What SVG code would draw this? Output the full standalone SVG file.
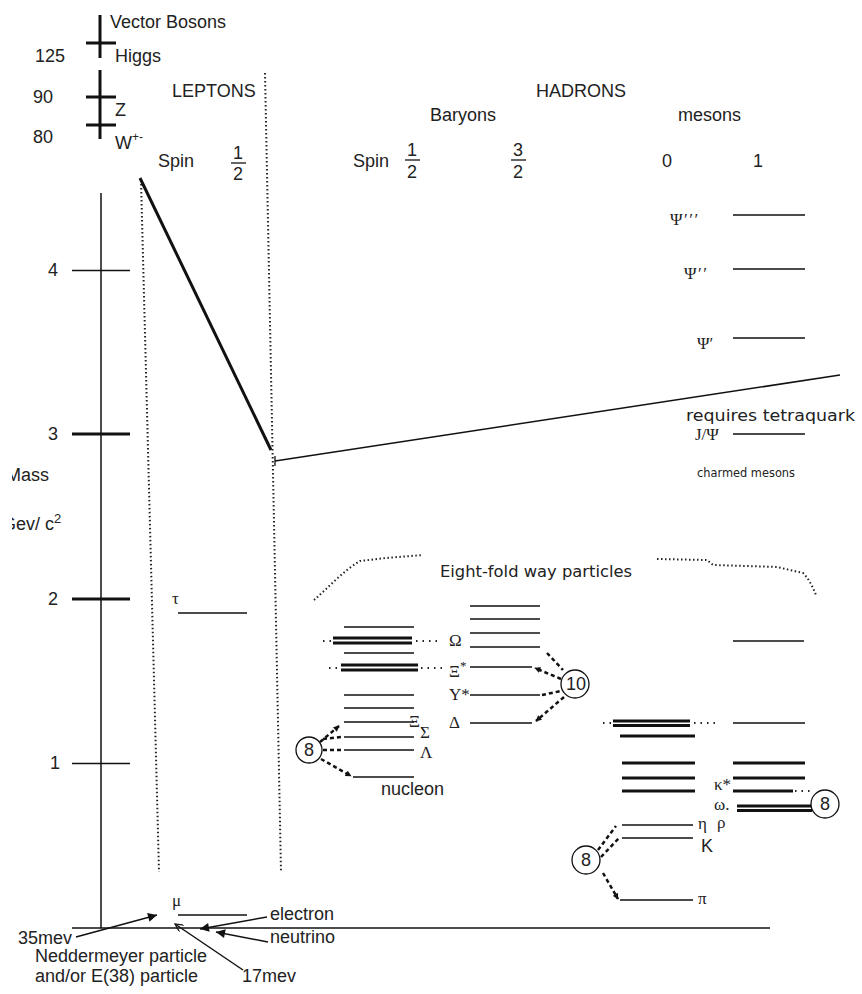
<svg xmlns="http://www.w3.org/2000/svg" width="862" height="994" viewBox="0 0 862 994">
<defs>
<style>
.t{font-family:"Liberation Sans",Arial,sans-serif;font-size:18px;fill:#222}
.m{text-anchor:middle}
.g{font-family:"Liberation Serif","DejaVu Serif",serif;font-size:17px;fill:#222}
.c{font-family:"DejaVu Sans",sans-serif;fill:#222}
.ln{stroke:#111;stroke-width:1.5;fill:none}
.tn{stroke:#111;stroke-width:1.3;fill:none}
.th{stroke:#111;stroke-width:3;fill:none}
.dot{stroke:#222;stroke-width:2;stroke-dasharray:1.5 2.5;fill:none}
.sdot{stroke:#222;stroke-width:1.8;stroke-dasharray:1.5 5;fill:none}
.dash{stroke:#111;stroke-width:2.5;stroke-dasharray:4 3;fill:none}
.circ{fill:#fff;stroke:#111;stroke-width:1.3}
</style>
<marker id="ah" viewBox="0 0 10 10" refX="9" refY="5" markerUnits="userSpaceOnUse" markerWidth="7" markerHeight="6" orient="auto"><path d="M0,0 L10,5 L0,10 z" fill="#111"/></marker>
<marker id="big" viewBox="0 0 10 10" refX="10" refY="5" markerUnits="userSpaceOnUse" markerWidth="15" markerHeight="9" orient="auto"><path d="M0,0 L10,5 L0,10 z" fill="#111"/></marker>
<marker id="open" viewBox="0 0 10 10" refX="10" refY="5" markerUnits="userSpaceOnUse" markerWidth="10" markerHeight="8" orient="auto"><path d="M0,0 L10,5 L0,10" fill="none" stroke="#111" stroke-width="1.5"/></marker>
<clipPath id="crop"><rect x="12" y="0" width="200" height="994"/></clipPath>
</defs>
<rect width="862" height="994" fill="#fff"/>

<g id="bosons">
<line class="th" x1="100" y1="15" x2="100" y2="58" stroke-width="2.5"/>
<line class="th" x1="86" y1="43" x2="116" y2="43" stroke-width="2.5"/>
<line class="th" x1="100" y1="70" x2="100" y2="139" stroke-width="2.5"/>
<line class="th" x1="86" y1="97" x2="116" y2="97" stroke-width="2.5"/>
<line class="th" x1="86" y1="125" x2="116" y2="125" stroke-width="2.5"/>
<text class="t" x="110" y="28">Vector Bosons</text>
<text class="t" x="35" y="62" font-size="17">125</text>
<text class="t" x="115" y="62">Higgs</text>
<text class="t" x="33" y="103" font-size="17">90</text>
<text class="t" x="115" y="116">Z</text>
<text class="t" x="33" y="143" font-size="17">80</text>
<text class="t" x="115" y="149">W<tspan font-size="12" dy="-8">+-</tspan></text>
</g>

<g id="headers">
<text class="t" x="172" y="97">LEPTONS</text>
<text class="t" x="158" y="167">Spin</text>
<text class="t m" x="238" y="159" font-size="17">1</text>
<line class="tn" x1="231" y1="163" x2="246" y2="163"/>
<text class="t m" x="238" y="180" font-size="17">2</text>
<text class="t" x="536" y="97">HADRONS</text>
<text class="t" x="430" y="121">Baryons</text>
<text class="t" x="678" y="121">mesons</text>
<text class="t" x="353" y="167">Spin</text>
<text class="t m" x="412" y="156" font-size="17">1</text>
<line class="tn" x1="405" y1="160" x2="420" y2="160"/>
<text class="t m" x="412" y="178" font-size="17">2</text>
<text class="t m" x="518" y="156" font-size="17">3</text>
<line class="tn" x1="511" y1="160" x2="526" y2="160"/>
<text class="t m" x="518" y="178" font-size="17">2</text>
<text class="t m" x="667" y="167" font-size="17">0</text>
<text class="t m" x="758" y="167" font-size="17">1</text>
</g>

<g id="axis">
<line class="ln" x1="101" y1="193" x2="101" y2="928"/>
<line class="ln" x1="72" y1="928" x2="770" y2="928"/>
<line class="tn" x1="72" y1="270.5" x2="130" y2="270.5"/>
<line class="th" x1="72" y1="434" x2="130" y2="434"/>
<line class="th" x1="72" y1="599" x2="130" y2="599"/>
<line class="tn" x1="72" y1="763.5" x2="130" y2="763.5"/>
<text class="t" x="48" y="276" font-size="17">4</text>
<text class="t" x="48" y="440" font-size="17">3</text>
<text class="t" x="48" y="605" font-size="17">2</text>
<text class="t" x="50" y="769" font-size="17">1</text>
<g clip-path="url(#crop)">
<text class="t" x="6" y="481">Mass</text>
<text class="t" x="2" y="530">Gev/ c<tspan font-size="13" dy="-7">2</tspan></text>
</g>
</g>

<g id="leptons">
<line class="dot" x1="141" y1="180" x2="159" y2="872"/>
<line class="dot" x1="265" y1="73" x2="281" y2="872"/>
<line class="th" x1="140" y1="178" x2="271" y2="450"/>
<line class="tn" x1="275" y1="456" x2="275" y2="466"/>
<line class="ln" x1="275" y1="461" x2="840" y2="375"/>
<text class="g" x="172" y="604" font-size="16">τ</text>
<line class="ln" x1="178" y1="613" x2="247" y2="613"/>
<text class="g" x="172" y="906" font-size="15">μ</text>
<line class="ln" x1="178" y1="915" x2="247" y2="915"/>
</g>

<g id="charm">
<text class="g" x="670" y="225" font-size="19" letter-spacing="1.5">Ψ′′′</text>
<line class="ln" x1="733" y1="215" x2="805" y2="215"/>
<text class="g" x="684" y="279" font-size="19" letter-spacing="1.5">Ψ′′</text>
<line class="ln" x1="733" y1="269" x2="805" y2="269"/>
<text class="g" x="697" y="349" font-size="19">Ψ′</text>
<line class="ln" x1="733" y1="338" x2="805" y2="338"/>
<text class="c" x="686" y="421" font-size="16" textLength="169" lengthAdjust="spacingAndGlyphs">requires tetraquark</text>
<text class="g" x="695" y="440" font-size="14">J/Ψ</text>
<line class="ln" x1="733" y1="434" x2="805" y2="434"/>
<text class="c" x="697" y="477" font-size="13" textLength="98" lengthAdjust="spacingAndGlyphs">charmed mesons</text>
</g>

<g id="eightfold">
<text class="c" x="440" y="577" font-size="15" textLength="192" lengthAdjust="spacingAndGlyphs">Eight-fold way particles</text>
<path class="dot" d="M314,600 C328,588 344,570 360,561 L386,558 L423,555"/>
<path class="dot" d="M657,559 L707,560 L713,565 L777,567 L803,573 C810,580 813,588 816,595"/>
</g>

<g id="baryons-half">
<line class="ln" x1="344" y1="627" x2="414" y2="627"/>
<line class="th" x1="333" y1="638" x2="412" y2="638" stroke-width="2.6"/>
<line class="th" x1="333" y1="643" x2="412" y2="643" stroke-width="2.6"/>
<line class="sdot" x1="323" y1="641" x2="333" y2="641"/>
<line class="sdot" x1="416" y1="641" x2="442" y2="641"/>
<line class="ln" x1="344" y1="653" x2="414" y2="653"/>
<line class="th" x1="341" y1="665" x2="418" y2="665" stroke-width="2.6"/>
<line class="th" x1="341" y1="670" x2="418" y2="670" stroke-width="2.6"/>
<line class="sdot" x1="329" y1="668" x2="340" y2="668"/>
<line class="sdot" x1="421" y1="668" x2="447" y2="668"/>
<line class="ln" x1="344" y1="695" x2="414" y2="695"/>
<line class="ln" x1="344" y1="708" x2="414" y2="708"/>
<line class="ln" x1="344" y1="722" x2="414" y2="722"/>
<line class="ln" x1="344" y1="737" x2="414" y2="737"/>
<line class="ln" x1="344" y1="750" x2="414" y2="750"/>
<line class="ln" x1="353" y1="777" x2="414" y2="777"/>
<text class="g" x="409" y="727" font-size="16">Ξ</text>
<text class="g" x="420" y="738" font-size="13">Σ</text>
<text class="g" x="420" y="758" font-size="13">Λ</text>
<text class="t" x="381" y="795">nucleon</text>
</g>

<g id="baryons-threehalf">
<line class="ln" x1="470" y1="606" x2="540" y2="606"/>
<line class="ln" x1="470" y1="619" x2="540" y2="619"/>
<line class="ln" x1="470" y1="633" x2="540" y2="633"/>
<line class="ln" x1="470" y1="647" x2="540" y2="647"/>
<line class="ln" x1="470" y1="667" x2="532" y2="667"/>
<line class="ln" x1="470" y1="695" x2="540" y2="695"/>
<line class="ln" x1="470" y1="723" x2="532" y2="723"/>
<text class="g" x="449" y="646">Ω</text>
<text class="g" x="449" y="677">Ξ<tspan font-size="13" dy="-7">*</tspan></text>
<text class="g" x="449" y="700">Υ*</text>
<text class="g" x="449" y="728">Δ</text>
</g>

<g id="mesons-0">
<line class="th" x1="613" y1="721" x2="690" y2="721" stroke-width="2.6"/>
<line class="th" x1="613" y1="725.5" x2="690" y2="725.5" stroke-width="2.6"/>
<line class="sdot" x1="603" y1="723" x2="612" y2="723"/>
<line class="sdot" x1="694" y1="723" x2="720" y2="723"/>
<line class="th" x1="620" y1="736" x2="695" y2="736"/>
<line class="th" x1="622" y1="763" x2="695" y2="763"/>
<line class="th" x1="622" y1="778" x2="695" y2="778"/>
<line class="th" x1="622" y1="791" x2="695" y2="791"/>
<line class="ln" x1="622" y1="825" x2="693" y2="825"/>
<line class="ln" x1="622" y1="838" x2="693" y2="838"/>
<line class="ln" x1="620" y1="900" x2="693" y2="900"/>
<text class="g" x="698" y="829">η</text>
<text class="t" x="701" y="852">K</text>
<text class="g" x="698" y="904" font-size="14">π</text>
</g>

<g id="mesons-1">
<line class="ln" x1="733" y1="641" x2="804" y2="641"/>
<line class="ln" x1="733" y1="723" x2="805" y2="723"/>
<line class="th" x1="733" y1="763" x2="805" y2="763"/>
<line class="th" x1="733" y1="778" x2="805" y2="778"/>
<line class="th" x1="733" y1="791" x2="793" y2="791"/>
<line class="th" x1="737" y1="806" x2="812" y2="806" stroke-width="2.6"/>
<line class="th" x1="737" y1="810.5" x2="812" y2="810.5" stroke-width="2.6"/>
<text class="g" x="714" y="790" font-size="10.5">κ*</text>
<text class="g" x="714" y="810" font-size="10.5">ω.</text>
<text class="g" x="717" y="828" font-size="16">ρ</text>
</g>

<g id="connectors">
<line class="dash" x1="320" y1="742" x2="339" y2="726" marker-end="url(#ah)"/>
<line class="dash" x1="323" y1="739" x2="342" y2="737"/>
<line class="dash" x1="323" y1="750" x2="343" y2="750"/>
<line class="dash" x1="321" y1="759" x2="351" y2="776" marker-end="url(#ah)"/>
<line class="dash" x1="547" y1="653" x2="563" y2="670"/>
<line class="dash" x1="561" y1="679" x2="535" y2="668" marker-end="url(#ah)"/>
<line class="dash" x1="542" y1="695" x2="561" y2="691"/>
<line class="dash" x1="564" y1="697" x2="536" y2="721" marker-end="url(#ah)"/>
<line class="dash" x1="598" y1="850" x2="616" y2="826"/>
<line class="dash" x1="601" y1="857" x2="619" y2="838"/>
<line class="dash" x1="603" y1="873" x2="618" y2="899" marker-end="url(#ah)"/>
<line class="sdot" x1="795" y1="791" x2="812" y2="791" stroke-width="2"/>
<line class="ln" x1="76" y1="937" x2="157" y2="915" marker-end="url(#big)"/>
<line class="ln" x1="267" y1="917" x2="200" y2="929" marker-end="url(#big)"/>
<line class="ln" x1="268" y1="942" x2="216" y2="932" marker-end="url(#big)"/>
<line class="ln" x1="243" y1="970" x2="175" y2="924" marker-end="url(#open)"/>
</g>

<g id="octet-baryon">
<circle class="circ" cx="309" cy="750" r="13"/>
<text class="t m" x="309" y="756" font-size="17">8</text>
</g>
<g id="decuplet">
<circle class="circ" cx="575" cy="684" r="14"/>
<text class="t m" x="576" y="690" font-size="17">10</text>
</g>
<g id="octet-meson0">
<circle class="circ" cx="586" cy="860" r="14"/>
<text class="t m" x="586" y="866" font-size="17">8</text>
</g>
<g id="octet-meson1">
<circle class="circ" cx="825" cy="804" r="14"/>
<text class="t m" x="825" y="810" font-size="17">8</text>
</g>

<g id="bottom-labels">
<text class="t" x="270" y="920">electron</text>
<text class="t" x="270" y="943">neutrino</text>
<text class="t" x="18" y="944">35mev</text>
<text class="t" x="35" y="962">Neddermeyer particle</text>
<text class="t" x="35" y="982">and/or E(38) particle</text>
<text class="t" x="242" y="982">17mev</text>
</g>
</svg>
